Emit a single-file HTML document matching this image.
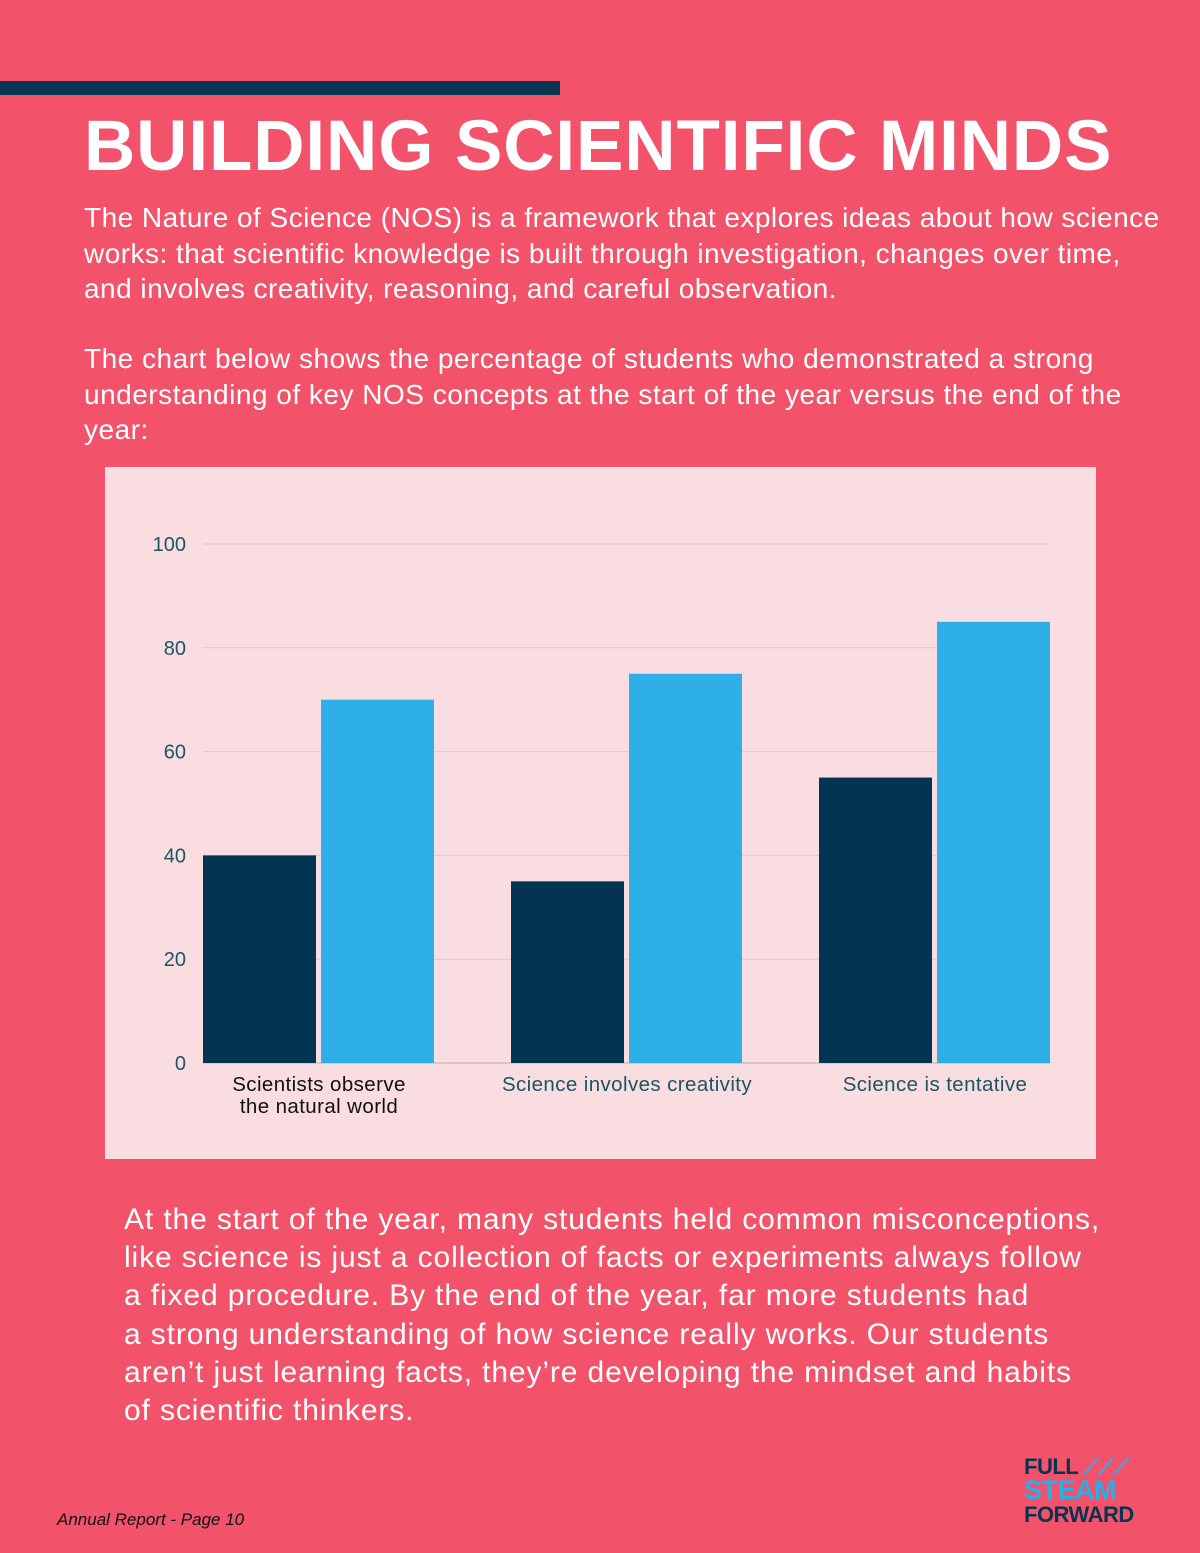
<!DOCTYPE html>
<html><head><meta charset="utf-8"><style>
body{margin:0;width:1200px;height:1553px;background:#f2536a;position:relative;overflow:hidden;font-family:"Liberation Sans",sans-serif;color:#fff}
.abs{position:absolute}
p{margin:0;white-space:nowrap}
</style></head><body>
<div class="abs" style="left:0;top:81px;width:560px;height:14px;background:#083452"></div>
<div class="abs" style="left:84px;top:106px;font-size:71px;font-weight:bold;letter-spacing:0.9px;white-space:nowrap">BUILDING SCIENTIFIC MINDS</div>
<p class="abs" style="left:84px;top:200px;font-size:28px;letter-spacing:0.47px;line-height:35.5px">The Nature of Science (NOS) is a framework that explores ideas about how science<br>works: that scientific knowledge is built through investigation, changes over time,<br>and involves creativity, reasoning, and careful observation.</p>
<p class="abs" style="left:84px;top:341px;font-size:28px;letter-spacing:0.5px;line-height:35.5px">The chart below shows the percentage of students who demonstrated a strong<br>understanding of key NOS concepts at the start of the year versus the end of the<br>year:</p>
<div class="abs" style="left:105px;top:467px;width:991px;height:692px;background:#fadde1"></div>
<svg class="abs" style="left:0;top:0" width="1200" height="1553" id="chart"></svg>
<p class="abs" style="left:124px;top:1201px;font-size:30px;letter-spacing:0.88px;line-height:38.2px">At the start of the year, many students held common misconceptions,<br>like science is just a collection of facts or experiments always follow<br>a fixed procedure. By the end of the year, far more students had<br>a strong understanding of how science really works. Our students<br>aren’t just learning facts, they’re developing the mindset and habits<br>of scientific thinkers.</p>
<div class="abs" style="left:57px;top:1510px;font-size:17px;font-style:italic;color:#111">Annual Report - Page 10</div>
<div class="abs" style="left:1024px;top:1455px;font-weight:bold;font-size:22px;line-height:23px;letter-spacing:-0.5px">
<div style="color:#083452">FULL <span style="color:#2aaee6">⟋⟋⟋</span></div>
<div style="color:#2aaee6;font-size:27px;line-height:25px">STEAM</div>
<div style="color:#083452">FORWARD</div>
</div>
<script>
const categories=["Scientists observe|the natural world","Science involves creativity","Science is tentative"];
const startValues=[40,35,55];
const endValues=[70,75,85];
const ticks=[0,20,40,60,80,100];
const svg=document.getElementById('chart');
const NS='http://www.w3.org/2000/svg';
const y0=1063,yTop=544,xL=203,xR=1050;
const y=v=>y0-(v/100)*(y0-yTop);
const gw=(xR-xL+ (511-434))/categories.length;
function mk(t,a){const e=document.createElementNS(NS,t);for(const k in a)e.setAttribute(k,a[k]);svg.appendChild(e);return e;}
ticks.forEach(t=>{
 const l=mk('line',{x1:xL,x2:xR,y1:y(t),y2:y(t),stroke:t===0?'#bfb0b4':'#e3c7cc','stroke-width':1});
 
 
 const tx=mk('text',{x:186,y:y(t)+7,'text-anchor':'end','font-size':20,fill:'#1a5560','font-family':'Liberation Sans,sans-serif'});
 tx.textContent=t;
 
 
});
categories.forEach((c,i)=>{
 const gx=xL+i*gw;
 const bw=113;
 const b1=mk('rect',{x:gx,y:y(startValues[i]),width:bw,height:y0-y(startValues[i]),fill:'#033553'});
 
 
 const b2=mk('rect',{x:gx+bw+5,y:y(endValues[i]),width:bw,height:y0-y(endValues[i]),fill:'#2eafe8'});
 
 
 const parts=c.split('|');
 parts.forEach((p,j)=>{
  const tx=mk('text',{x:gx+bw+3,y:1091+j*22,'text-anchor':'middle','font-size':20.5,'letter-spacing':0.4,fill:i===0?'#111':'#1a5560','font-family':'Liberation Sans,sans-serif'});
  tx.textContent=p;
  
  
 });
});
</script>
</body></html>
